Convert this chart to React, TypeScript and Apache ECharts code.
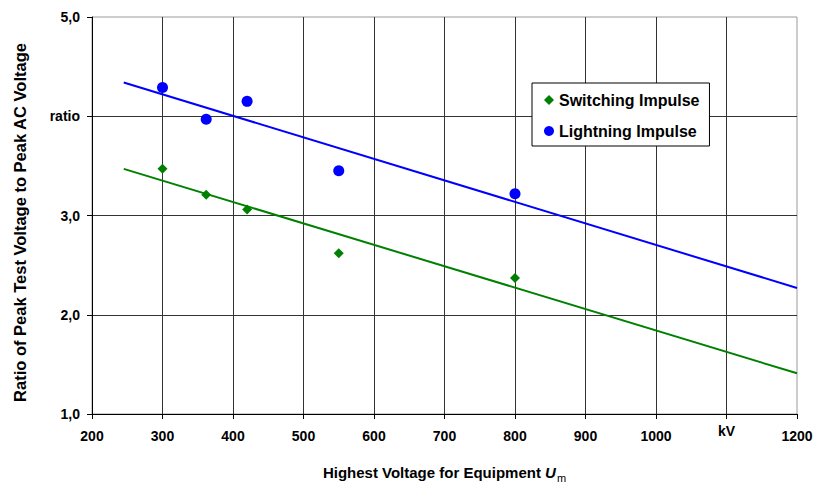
import React, { useEffect, useRef } from "react";
import * as echarts from "echarts";

// Standard highest voltages for equipment Um (kV)
const voltages = [300, 362, 420, 550, 800];
// Ratio of peak test voltage to peak AC voltage
const switchingRatio = [3.47, 3.21, 3.06, 2.62, 2.37];
const lightningRatio = [4.29, 3.97, 4.15, 3.45, 3.22];
// Linear trend lines (start / end of the fitted range)
const trendRange = [245, 1200];
const switchingTrend = [3.47, 1.41];
const lightningTrend = [4.34, 2.27];
// Axis tick labels
const xTickValues = [200, 300, 400, 500, 600, 700, 800, 900, 1000, 1100, 1200];
const xTickLabels = ["200", "300", "400", "500", "600", "700", "800", "900", "1000", "", "1200"];
const yTickValues = [1, 2, 3, 4, 5];
const yTickLabels = ["1,0", "2,0", "3,0", "ratio", "5,0"];
const unitLabel = "kV";
const unitAt = 1100;

const FONT = "'Liberation Sans', Arial, Helvetica, sans-serif";
const GREEN = "#008000";
const BLUE = "#0000ff";

export default function App() {
  const ref = useRef<HTMLDivElement>(null);

  useEffect(() => {
    if (!ref.current) return;
    const chart = echarts.init(ref.current, null, { renderer: "svg" });

    const option: any = {
      animation: false,
      backgroundColor: "#ffffff",
      textStyle: { fontFamily: FONT },
      grid: {
        left: 92,
        right: 17,
        top: 17,
        bottom: 68,
        outerBoundsMode: "none",
        containLabel: false,
        show: true,
        borderColor: "#9a9a9a",
        borderWidth: 1,
        backgroundColor: "transparent",
      },
      legend: {
        orient: "vertical",
        left: 532,
        top: 83,
        data: [
          { name: "Switching Impulse", icon: "diamond" },
          { name: "Lightning Impulse", icon: "circle" },
        ],
        itemWidth: 10,
        itemHeight: 10,
        itemGap: 15,
        padding: [9, 10, 7, 12],
        borderColor: "#000000",
        borderWidth: 1,
        backgroundColor: "#ffffff",
        textStyle: {
          fontFamily: FONT,
          fontWeight: "bold",
          fontSize: 16,
          color: "#000000",
          lineHeight: 16,
        },
      },
      xAxis: {
        type: "value",
        min: 200,
        max: 1200,
        interval: 100,
        name: "Highest Voltage for Equipment {u|U}{m|m}",
        nameLocation: "middle",
        nameGap: 48,
        nameTextStyle: {
          fontFamily: FONT,
          fontWeight: "bold",
          fontSize: 15,
          color: "#000000",
          rich: {
            u: { fontFamily: FONT, fontWeight: "bold", fontStyle: "italic", fontSize: 15, color: "#000" },
            m: { fontFamily: FONT, fontWeight: "normal", fontSize: 11, color: "#000", padding: [10, 0, 0, 1] },
          },
        },
        axisLine: { show: true, lineStyle: { color: "#000000", width: 1 } },
        axisTick: { show: true, inside: false, length: 5, lineStyle: { color: "#000000" } },
        axisLabel: {
          margin: 15,
          fontFamily: FONT,
          fontWeight: "bold",
          fontSize: 14,
          color: "#000000",
          formatter: (v: number) => {
            const i = xTickValues.indexOf(Math.round(v));
            return i >= 0 ? xTickLabels[i] : "";
          },
        },
        splitLine: {
          show: true,
          showMaxLine: false,
          lineStyle: { color: "#333333", width: 1 },
        },
      },
      yAxis: {
        type: "value",
        min: 1,
        max: 5,
        interval: 1,
        name: "Ratio of Peak Test Voltage to Peak AC Voltage",
        nameLocation: "middle",
        nameGap: 64,
        nameRotate: 90,
        nameTextStyle: {
          fontFamily: FONT,
          fontWeight: "bold",
          fontSize: 16.5,
          color: "#000000",
          padding: [0, 14, 0, 0],
        },
        axisLine: { show: true, lineStyle: { color: "#000000", width: 1 } },
        axisTick: { show: true, inside: false, length: 5, lineStyle: { color: "#000000" } },
        axisLabel: {
          margin: 12,
          fontFamily: FONT,
          fontWeight: "bold",
          fontSize: 14,
          color: "#000000",
          formatter: (v: number) => {
            const i = yTickValues.indexOf(Math.round(v));
            return i >= 0 ? yTickLabels[i] : "";
          },
        },
        splitLine: {
          show: true,
          showMaxLine: false,
          lineStyle: { color: "#333333", width: 1 },
        },
      },
      series: [
        {
          name: "Switching Trend",
          type: "line",
          data: trendRange.map((x, i) => [x, switchingTrend[i]]),
          showSymbol: false,
          symbol: "none",
          lineStyle: { color: GREEN, width: 2 },
          itemStyle: { color: GREEN },
          silent: true,
          z: 3,
        },
        {
          name: "Lightning Trend",
          type: "line",
          data: trendRange.map((x, i) => [x, lightningTrend[i]]),
          showSymbol: false,
          symbol: "none",
          lineStyle: { color: BLUE, width: 2 },
          itemStyle: { color: BLUE },
          silent: true,
          z: 3,
        },
        {
          name: "Switching Impulse",
          type: "scatter",
          symbol: "diamond",
          symbolSize: 10,
          itemStyle: { color: GREEN, opacity: 1 },
          data: voltages.map((x, i) => [x, switchingRatio[i]]),
          z: 4,
        },
        {
          name: "Lightning Impulse",
          type: "scatter",
          symbol: "circle",
          symbolSize: 11,
          itemStyle: { color: BLUE, opacity: 1 },
          data: voltages.map((x, i) => [x, lightningRatio[i]]),
          z: 4,
        },
      ],
    };

    chart.setOption(option);

    // Unit label sits slightly above the regular tick labels, in place of 1100
    const ux = chart.convertToPixel({ xAxisIndex: 0 }, unitAt) as number;
    const uy = chart.convertToPixel({ yAxisIndex: 0 }, 1) as number;
    chart.setOption({
      graphic: [
        {
          type: "text",
          x: ux,
          y: uy + 10,
          style: {
            text: unitLabel,
            fontFamily: FONT,
            fontWeight: "bold",
            fontSize: 14,
            fill: "#000000",
            align: "center",
            verticalAlign: "top",
          },
        },
      ],
    });

    return () => chart.dispose();
  }, []);

  return (
    <div
      ref={ref}
      style={{ position: "fixed", left: 0, top: 0, width: 814, height: 482 }}
    />
  );
}
